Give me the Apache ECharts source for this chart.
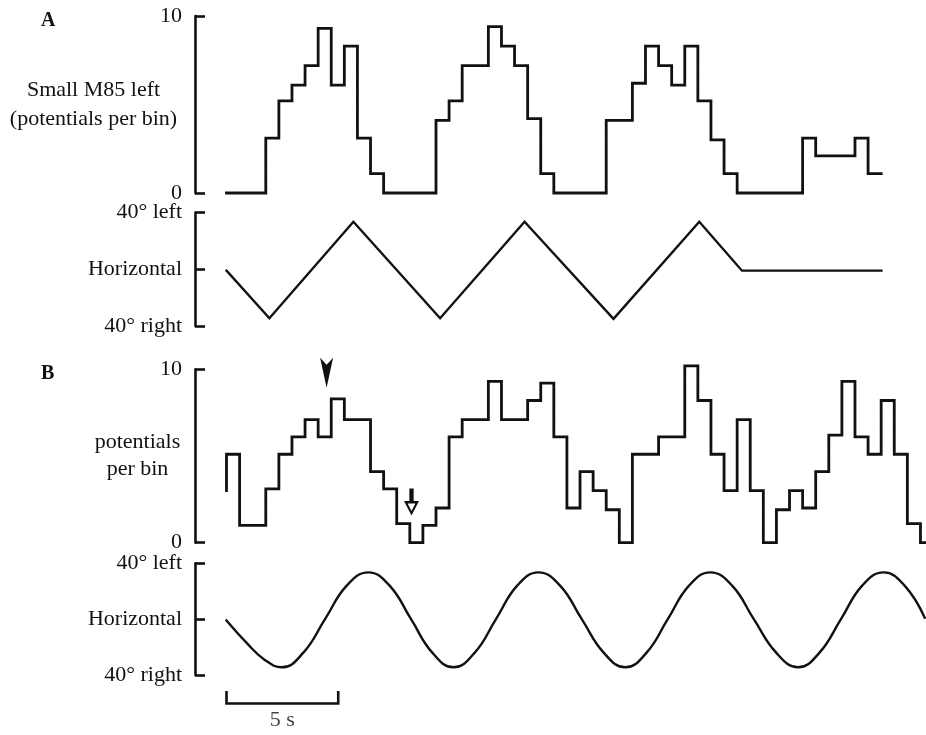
<!DOCTYPE html>
<html>
<head>
<meta charset="utf-8">
<script src="https://cdn.jsdelivr.net/npm/echarts@6/dist/echarts.min.js"></script>
<style>
  html, body { margin: 0; padding: 0; background: #fff; }
  #chart { width: 926px; height: 735px; }
</style>
</head>
<body>
<div id="chart"></div>
<script>
// Bin width of the spike histograms, in seconds
const BIN_S = 0.586;

// A: potentials per bin during the triangular (ramp) stimulus
const rateA = [0, 0, 0, 3.1, 5.2, 6.1, 7.2, 9.3, 6.1, 8.3,
               3.1, 1.1, 0, 0, 0, 0, 4.1, 5.2, 7.2, 7.2,
               9.4, 8.3, 7.2, 4.2, 1.1, 0, 0, 0, 0, 4.1,
               4.1, 6.2, 8.3, 7.2, 6.1, 8.3, 5.2, 3.0, 1.1, 0,
               0, 0, 0, 0, 3.1, 2.1, 2.1, 2.1, 3.1, 1.1];

// A: stimulus position (degrees, + = left) at its turning points
const rampTimeA = [0, 1.92, 5.68, 9.56, 13.34, 17.32, 21.16, 23.07, 29.31];
const rampDegA  = [-1, -34.5, 33.5, -34.5, 33.5, -35, 33.5, -1, -1];

// B: potentials per bin during the sinusoidal stimulus
const rateBLead = 3.0;   // lower end of the first bin's left edge
const rateB = [5.1, 1.0, 1.0, 3.1, 5.1, 6.1, 7.1, 6.1, 8.3, 7.1,
               7.1, 4.1, 3.1, 1.1, 0, 1.0, 2.0, 6.1, 7.1, 7.1,
               9.3, 7.1, 7.1, 8.2, 9.2, 6.1, 2.0, 4.1, 3.0, 1.9,
               0, 5.1, 5.1, 6.1, 6.1, 10.2, 8.2, 5.1, 3.0, 7.1,
               3.0, 0, 1.9, 3.0, 2.0, 4.1, 6.2, 9.3, 6.1, 5.1,
               8.2, 5.1, 1.1, 0];

// B: sinusoidal stimulus position (degrees, + = left)
const sineTimeB = [0, 0.9, 1.7, 2.47,
                   3.44, 4.41, 5.38, 6.35,
                   7.30, 8.26, 9.21, 10.16,
                   11.11, 12.06, 13.01, 13.96,
                   14.93, 15.9, 16.88, 17.85,
                   18.8, 19.75, 20.7, 21.65,
                   22.63, 23.6, 24.6, 25.58,
                   26.54, 27.5, 28.45, 29.41,
                   30.35, 31.25];
const sineDegB  = [-1, -17, -29, -34.5,
                   -24, 0, 24, 33.5,
                   24, 0, -24, -34.5,
                   -24, 0, 24, 33.5,
                   24, 0, -24, -34.5,
                   -24, 0, 24, 33.5,
                   24, 0, -24, -34.5,
                   -24, 0, 24, 33.5,
                   24, 1];

// Markers on trace B: filled arrowhead and hollow arrow (time s, potentials)
const arrowHeadB = [4.48, 9.8];
const hollowArrowB = [8.28, 2.35];

// Time scale bar
const scaleBarSeconds = 5;
const scaleBarLabel = '5 s';

// Axis tick labels
const rateMax = 10;
const positionLabels = { '40': '40\u00b0 left', '0': 'Horizontal', '-40': '40\u00b0 right' };
const panelLetters = ['A', 'B'];
const rateNameA = 'Small M85 left\n(potentials per bin)';
const rateNameB = 'potentials\nper bin';

const SERIF = "'Liberation Serif', 'Times New Roman', serif";
const INK = '#111';
const FONT_PX = 22;

function stepPoints(values, lead) {
  const pts = [];
  if (lead !== undefined) pts.push([0, lead]);
  values.forEach((v, i) => pts.push([+(i * BIN_S).toFixed(3), v]));
  pts.push([+(values.length * BIN_S).toFixed(3), values[values.length - 1]]);
  return pts;
}
function pairs(xs, ys) { return xs.map((x, i) => [x, ys[i]]); }

const axisBracket = {
  axisLine: { show: true, onZero: false, lineStyle: { color: INK, width: 2.6 } },
  axisTick: { show: true, inside: true, length: 10, lineStyle: { color: INK, width: 2.6 } },
  splitLine: { show: false },
  axisLabel: { color: INK, fontFamily: SERIF, fontSize: FONT_PX, margin: 13 },
  offset: 31.5
};

function rateAxis(gridIndex, name, gap, lh) {
  return Object.assign({}, axisBracket, {
    gridIndex, type: 'value', min: 0, max: rateMax, interval: rateMax,
    name, nameLocation: 'middle', nameRotate: 0, nameGap: gap, nameMoveOverlap: false,
    nameTextStyle: { color: INK, fontFamily: SERIF, fontSize: FONT_PX, align: 'center', lineHeight: lh }
  });
}
function positionAxis(gridIndex) {
  return Object.assign({}, axisBracket, {
    gridIndex, type: 'value', min: -40, max: 40, interval: 40,
    axisLabel: Object.assign({}, axisBracket.axisLabel, {
      formatter: v => positionLabels[String(v)]
    })
  });
}
function timeAxis(gridIndex) {
  return { gridIndex, type: 'value', min: 0, max: 32, show: false };
}

const gridBase = { left: 226.5, width: 715, containLabel: false, outerBoundsMode: 'none' };
const traceStyle = (w) => ({ color: INK, width: w, cap: 'square', join: 'miter' });

const option = {
  backgroundColor: '#fff',
  animation: false,
  title: [
    { text: panelLetters[0], left: 36, top: 6, textStyle: { fontFamily: SERIF, fontWeight: 'bold', fontSize: 20, color: INK } },
    { text: panelLetters[1], left: 36, top: 359, textStyle: { fontFamily: SERIF, fontWeight: 'bold', fontSize: 20, color: INK } }
  ],
  grid: [
    Object.assign({ top: 16, height: 177 }, gridBase),
    Object.assign({ top: 212.5, height: 113.5 }, gridBase),
    Object.assign({ top: 369.3, height: 173.4 }, gridBase),
    Object.assign({ top: 563.3, height: 111.7 }, gridBase),
    Object.assign({ top: 691, height: 37.5 }, gridBase)
  ],
  xAxis: [timeAxis(0), timeAxis(1), timeAxis(2), timeAxis(3), timeAxis(4)],
  yAxis: [
    rateAxis(0, rateNameA, 101.5, 29),
    positionAxis(1),
    rateAxis(2, rateNameB, 57.5, 27),
    positionAxis(3),
    { gridIndex: 4, type: 'value', min: -2, max: 1, show: false }
  ],
  series: [
    {
      name: 'A rate', type: 'line', xAxisIndex: 0, yAxisIndex: 0, clip: false,
      step: 'end', symbol: 'none', data: stepPoints(rateA),
      lineStyle: traceStyle(2.8)
    },
    {
      name: 'A position', type: 'line', xAxisIndex: 1, yAxisIndex: 1,
      symbol: 'none', data: pairs(rampTimeA, rampDegA),
      lineStyle: traceStyle(2.4)
    },
    {
      name: 'B rate', type: 'line', xAxisIndex: 2, yAxisIndex: 2, clip: false,
      step: 'end', symbol: 'none', data: stepPoints(rateB, rateBLead),
      lineStyle: traceStyle(2.8)
    },
    {
      name: 'B markers', type: 'scatter', xAxisIndex: 2, yAxisIndex: 2, clip: false,
      data: [
        { value: arrowHeadB, symbol: 'path://M0,0L6.5,7L13,0L6.5,30Z', symbolSize: [13, 30] },
        { value: hollowArrowB,
          symbol: 'path://M5,0L9,0L9,12L14,12L7,26L0,12L5,12Z M3.4,14.6L7,21.8L10.6,14.6Z',
          symbolSize: [15, 27] }
      ],
      itemStyle: { color: INK, opacity: 1 }
    },
    {
      name: 'B position', type: 'line', xAxisIndex: 3, yAxisIndex: 3,
      symbol: 'none', smooth: 0.45, data: pairs(sineTimeB, sineDegB),
      lineStyle: traceStyle(2.4)
    },
    {
      name: 'Scale bar', type: 'line', xAxisIndex: 4, yAxisIndex: 4,
      symbol: 'none',
      data: [[0, 0.9], [0, 0], [scaleBarSeconds, 0], [scaleBarSeconds, 0.9]],
      lineStyle: traceStyle(2.6)
    },
    {
      name: 'Scale label', type: 'scatter', xAxisIndex: 4, yAxisIndex: 4, clip: false,
      symbolSize: 0,
      data: [[scaleBarSeconds / 2, -1.3]],
      label: { show: true, position: 'inside', formatter: scaleBarLabel,
               color: INK, fontFamily: SERIF, fontSize: FONT_PX }
    }
  ]
};

const chart = echarts.init(document.getElementById('chart'), null, { renderer: 'canvas' });
chart.setOption(option);
</script>
</body>
</html>
